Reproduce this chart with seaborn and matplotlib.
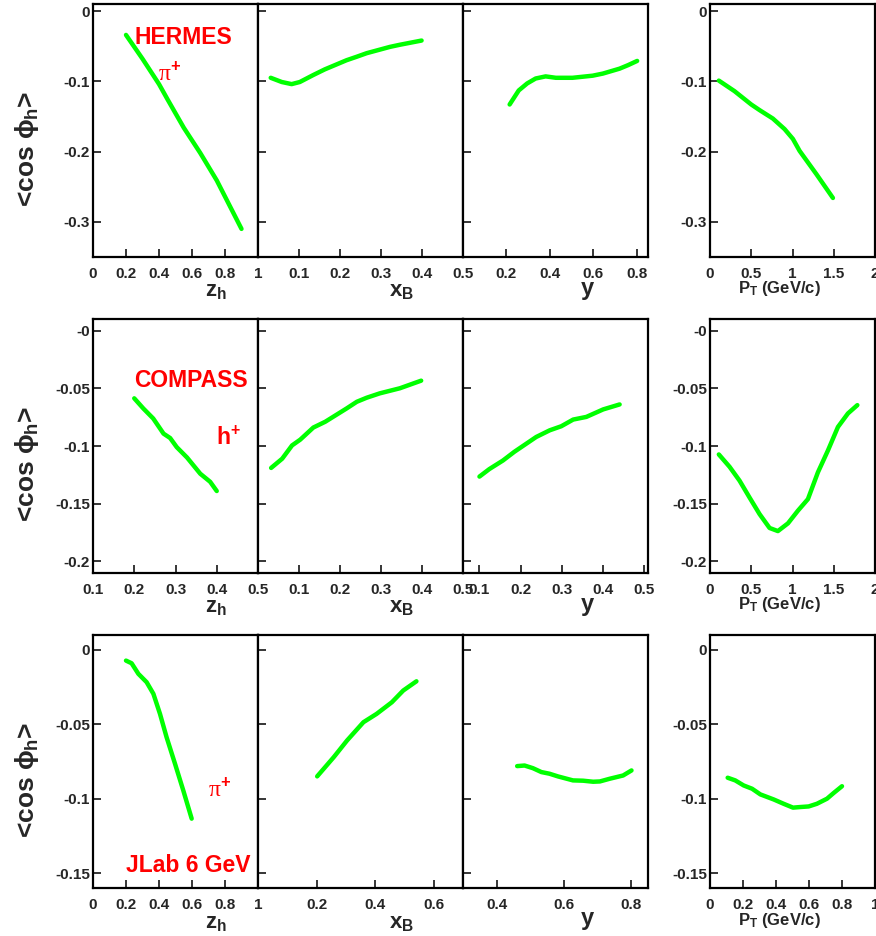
import numpy as np
import pandas as pd
import matplotlib
matplotlib.use("Agg")
import matplotlib.pyplot as plt
import seaborn as sns

# ---- data (x values, <cos phi_h> values) ----
# HERMES pi+
herm_z = [0.2, 0.3, 0.4, 0.45, 0.55, 0.65, 0.75, 0.85, 0.9]
herm_z_val = [-0.034, -0.068, -0.104, -0.125, -0.166, -0.202, -0.241, -0.287, -0.310]
herm_x = [0.031, 0.058, 0.082, 0.102, 0.135, 0.163, 0.216, 0.241, 0.265, 0.322, 0.346, 0.399]
herm_x_val = [-0.095, -0.101, -0.104, -0.101, -0.091, -0.083, -0.070, -0.065, -0.060, -0.051, -0.048, -0.042]
herm_y = [0.215, 0.257, 0.296, 0.335, 0.381, 0.428, 0.505, 0.598, 0.645, 0.722, 0.761, 0.803]
herm_y_val = [-0.133, -0.113, -0.103, -0.096, -0.093, -0.095, -0.095, -0.092, -0.089, -0.082, -0.077, -0.071]
herm_pt = [0.107, 0.297, 0.5, 0.601, 0.762, 0.904, 1.005, 1.086, 1.289, 1.49]
herm_pt_val = [-0.099, -0.114, -0.133, -0.141, -0.153, -0.168, -0.182, -0.199, -0.232, -0.266]

# COMPASS h+
comp_z = [0.2, 0.222, 0.246, 0.271, 0.287, 0.303, 0.328, 0.344, 0.36, 0.384, 0.4]
comp_z_val = [-0.0587, -0.0675, -0.0762, -0.0893, -0.0931, -0.101, -0.110, -0.117, -0.124, -0.131, -0.139]
comp_x = [0.032, 0.059, 0.083, 0.103, 0.135, 0.164, 0.216, 0.241, 0.265, 0.297, 0.346, 0.398]
comp_x_val = [-0.119, -0.111, -0.0995, -0.0945, -0.084, -0.079, -0.0675, -0.0617, -0.0582, -0.0544, -0.050, -0.0434]
comp_y = [0.1, 0.124, 0.157, 0.185, 0.214, 0.238, 0.271, 0.299, 0.328, 0.36, 0.401, 0.441]
comp_y_val = [-0.1265, -0.120, -0.1126, -0.105, -0.098, -0.0922, -0.0864, -0.0829, -0.0771, -0.0748, -0.0683, -0.064]
comp_pt = [0.107, 0.237, 0.358, 0.479, 0.601, 0.722, 0.823, 0.945, 1.066, 1.187, 1.308, 1.43, 1.551, 1.672, 1.786]
comp_pt_val = [-0.1073, -0.118, -0.130, -0.1446, -0.159, -0.171, -0.1737, -0.167, -0.156, -0.146,
               -0.1228, -0.1038, -0.0835, -0.0718, -0.0646]

# JLab 6 GeV pi+
jlab_z = [0.2, 0.234, 0.275, 0.325, 0.366, 0.406, 0.446, 0.497, 0.547, 0.598]
jlab_z_val = [-0.0072, -0.009, -0.0161, -0.0217, -0.0295, -0.043, -0.0587, -0.0765, -0.0944, -0.1134]
jlab_x = [0.202, 0.259, 0.304, 0.36, 0.405, 0.457, 0.496, 0.541]
jlab_x_val = [-0.085, -0.072, -0.0609, -0.0486, -0.043, -0.0352, -0.0273, -0.0211]
jlab_y = [0.461, 0.483, 0.508, 0.533, 0.557, 0.582, 0.627, 0.657, 0.687, 0.707, 0.736, 0.776, 0.801]
jlab_y_val = [-0.0781, -0.0777, -0.0795, -0.0821, -0.0832, -0.085, -0.0877, -0.0879, -0.0886, -0.0884,
              -0.0866, -0.0844, -0.081]
jlab_pt = [0.107, 0.153, 0.204, 0.255, 0.305, 0.386, 0.446, 0.503, 0.547, 0.598, 0.648, 0.709, 0.749, 0.8]
jlab_pt_val = [-0.0859, -0.0877, -0.0911, -0.0933, -0.0971, -0.1005, -0.1034, -0.106, -0.1056, -0.1052,
               -0.1034, -0.100, -0.0962, -0.0916]

# axis ranges / ticks per row
row_ylims = [(-0.35, 0.01), (-0.21, 0.01), (-0.16, 0.01)]
row_yticks = [[0, -0.1, -0.2, -0.3], [0, -0.05, -0.1, -0.15, -0.2], [0, -0.05, -0.1, -0.15]]
row_yticklabels = [["0", "-0.1", "-0.2", "-0.3"], ["-0", "-0.05", "-0.1", "-0.15", "-0.2"],
                   ["0", "-0.05", "-0.1", "-0.15"]]

row_xlims = [
    [(0, 1), (0, 0.5), (0, 0.853), (0, 2)],
    [(0.1, 0.5), (0, 0.5), (0.06, 0.51), (0, 2)],
    [(0, 1), (0, 0.7), (0.3, 0.85), (0, 1)],
]
row_xticks = [
    [[0, 0.2, 0.4, 0.6, 0.8, 1], [0.1, 0.2, 0.3, 0.4, 0.5], [0.2, 0.4, 0.6, 0.8], [0, 0.5, 1, 1.5, 2]],
    [[0.1, 0.2, 0.3, 0.4, 0.5], [0.1, 0.2, 0.3, 0.4, 0.5], [0.1, 0.2, 0.3, 0.4, 0.5], [0, 0.5, 1, 1.5, 2]],
    [[0, 0.2, 0.4, 0.6, 0.8, 1], [0.2, 0.4, 0.6], [0.4, 0.6, 0.8], [0, 0.2, 0.4, 0.6, 0.8, 1]],
]

rows = [
    [(herm_z, herm_z_val), (herm_x, herm_x_val), (herm_y, herm_y_val), (herm_pt, herm_pt_val)],
    [(comp_z, comp_z_val), (comp_x, comp_x_val), (comp_y, comp_y_val), (comp_pt, comp_pt_val)],
    [(jlab_z, jlab_z_val), (jlab_x, jlab_x_val), (jlab_y, jlab_y_val), (jlab_pt, jlab_pt_val)],
]

sns.set_style("ticks")
plt.rcParams["font.family"] = ["Liberation Sans", "DejaVu Sans"]
plt.rcParams["font.weight"] = "bold"
plt.rcParams["mathtext.fontset"] = "custom"
plt.rcParams["mathtext.rm"] = "Liberation Sans:bold"
plt.rcParams["mathtext.bf"] = "Liberation Sans:bold"
plt.rcParams["mathtext.it"] = "Liberation Sans:bold"

W, H = 876, 936
fig = plt.figure(figsize=(W / 100, H / 100), dpi=100)


def px(x, y):
    return x / W, 1 - y / H


col_px = [(93, 258), (258, 463), (463, 648), (710, 875)]
row_px = [(4, 257), (319, 573), (635, 888)]
xtitles = ["z$_{\\mathbf{h}}$", "x$_{\\mathbf{B}}$", "y", "P$_{\\mathbf{T}}$ (GeV/c)"]
xtitle_cx = [216, 402, 587, 779]
xtitle_off = [35, 35, 31, 32]  # centre of the title below the frame, px
xtitle_fs = [16, 16, 17, 12]

for r in range(3):
    top, bot = row_px[r]
    for c in range(4):
        left, right = col_px[c]
        ax = fig.add_axes([left / W, 1 - bot / H, (right - left) / W, (bot - top) / H])
        xs, ys = rows[r][c]
        df = pd.DataFrame({"x": xs, "v": ys})
        sns.lineplot(data=df, x="x", y="v", ax=ax, color="#00ff00", lw=3.2, sort=False)
        ax.set_xlim(*row_xlims[r][c])
        ax.set_ylim(*row_ylims[r])
        ax.set_xticks(row_xticks[r][c])
        ax.set_xticklabels([f"{t:g}" for t in row_xticks[r][c]], fontweight="bold")
        ax.set_yticks(row_yticks[r])
        if c in (0, 3):
            ax.set_yticklabels(row_yticklabels[r], fontweight="bold")
        else:
            ax.set_yticklabels([])
        ax.tick_params(axis="both", direction="in", length=6, width=1.3, labelsize=11)
        ax.tick_params(axis="x", pad=7)
        ax.tick_params(axis="y", pad=2)
        ax.set_xlabel("")
        ax.set_ylabel("")
        for s in ax.spines.values():
            s.set_linewidth(1.6)
            s.set_color("black")
        # axis title
        fig.text(*px(xtitle_cx[c], bot + xtitle_off[c]), xtitles[c], ha="center", va="center",
                 fontsize=xtitle_fs[c], fontweight="bold")
    fig.text(*px(27, [149, 464, 780][r]), "<cos $\\phi_{\\mathbf{h}}$>", rotation=90,
             ha="center", va="center", fontsize=19, fontweight="bold")

red = "#ff0000"
fig.text(*px(134, 44), "HERMES", color=red, fontsize=16.5, fontweight="bold", va="baseline")
fig.text(*px(158, 81), "π$^{\\mathbf{+}}$", color=red, fontsize=17, fontweight="normal",
         family=["Liberation Serif", "DejaVu Serif"], va="baseline")
fig.text(*px(134, 387), "COMPASS", color=red, fontsize=16.5, fontweight="bold", va="baseline")
fig.text(*px(216, 445), "h$^{\\mathbf{+}}$", color=red, fontsize=16.5, fontweight="bold", va="baseline")
fig.text(*px(208, 797), "π$^{\\mathbf{+}}$", color=red, fontsize=17, fontweight="normal",
         family=["Liberation Serif", "DejaVu Serif"], va="baseline")
fig.text(*px(126, 872), "JLab 6 GeV", color=red, fontsize=16.5, fontweight="bold", va="baseline")

fig.savefig("out.png", dpi=100, facecolor="white")
